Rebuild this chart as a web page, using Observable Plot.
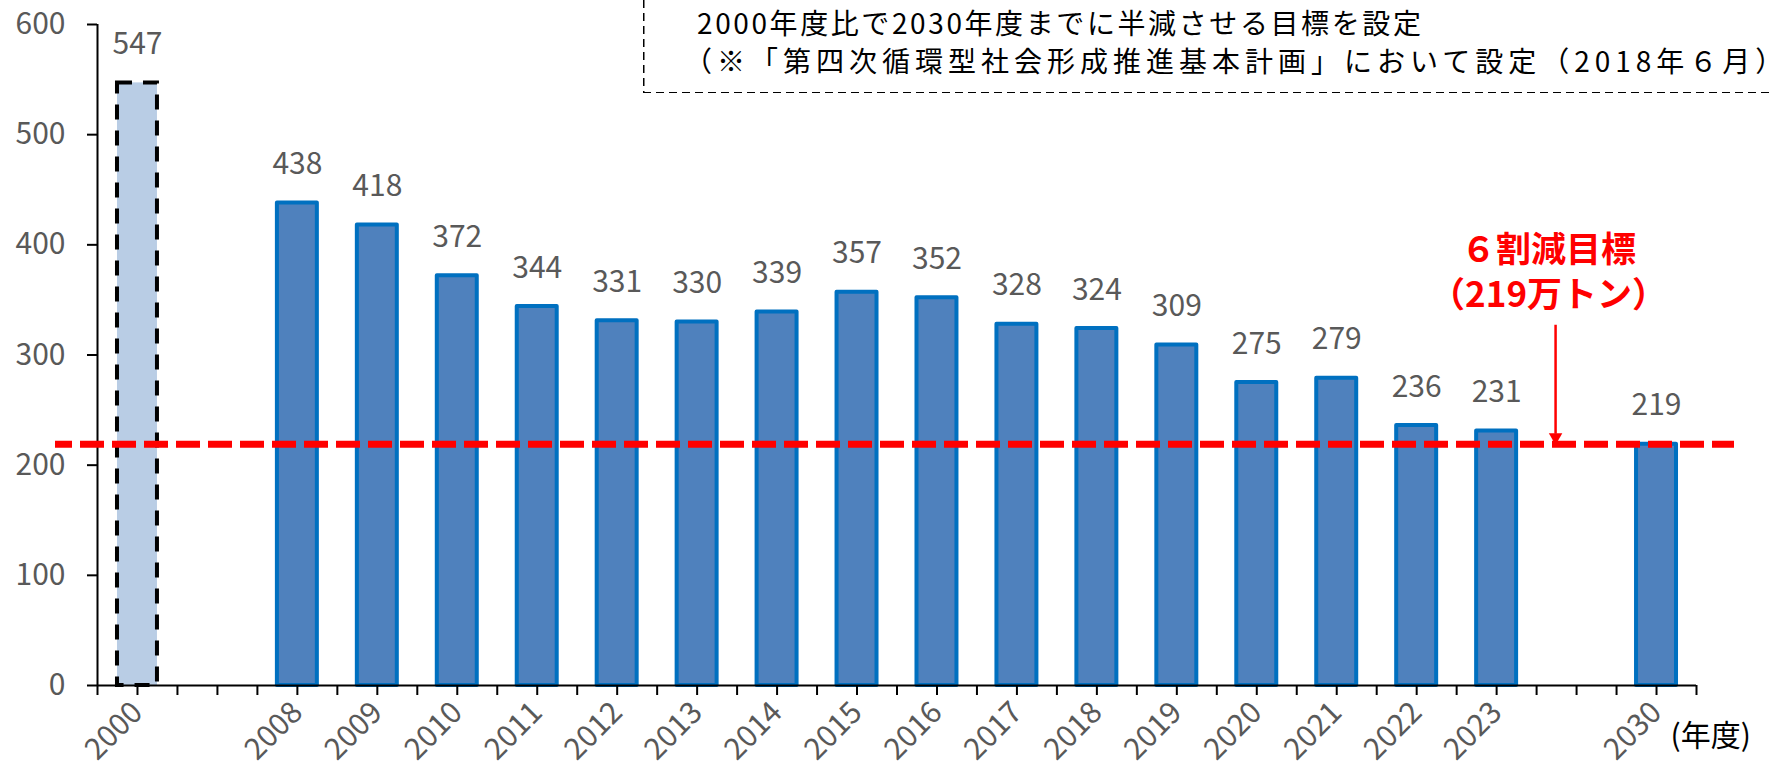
<!DOCTYPE html>
<html>
<head>
<meta charset="utf-8">
<script src="https://cdn.jsdelivr.net/npm/d3@7"></script>
<script src="https://cdn.jsdelivr.net/npm/@observablehq/plot@0.6"></script>
<style>
  html, body { margin: 0; padding: 0; background: #fff; }
  #wrap { position: relative; width: 1769px; height: 763px; overflow: hidden; background: #fff; }
  #wrap svg { position: absolute; left: 0; top: 0; }
  .note-box {
    position: absolute; left: 643px; top: 0; width: 1300px; height: 93px;
    background:
      repeating-linear-gradient(to right, #000 0 8px, transparent 8px 13px) left bottom / 100% 1.5px no-repeat,
      repeating-linear-gradient(to bottom, #000 0 8px, transparent 8px 13px) left top / 1.5px 100% no-repeat;
  }
  .note-line {
    position: absolute; white-space: pre; color: #000;
    font-family: "Noto Sans CJK JP", sans-serif; font-size: 28px; line-height: 1;
  }
</style>
</head>
<body>
<div id="wrap"></div>
<script>
// ---- data ----
const categories = ["2000", "", "2008", "2009", "2010", "2011", "2012", "2013", "2014", "2015",
  "2016", "2017", "2018", "2019", "2020", "2021", "2022", "2023", "", "2030"];
const values = [547, null, 438, 418, 372, 344, 331, 330, 339, 357,
  352, 328, 324, 309, 275, 279, 236, 231, null, 219];
const baseYear = "2000";
const targetValue = 219;
const arrowTopValue = 327;
const yTicks = [0, 100, 200, 300, 400, 500, 600];
const targetLine1 = "６割減目標";
const targetLine2 = "（219万トン）";
const unitLabel = "(年度)";
const noteLine1 = "2000年度比で2030年度までに半減させる目標を設定";
const noteLine2 = "（※「第四次循環型社会形成推進基本計画」において設定（2018年６月）";

// ---- table built from arrays ----
const rows = categories.map((c, i) => ({slot: i, category: c, value: values[i]}))
  .filter(d => d.value != null);
const baseRows = rows.filter(d => d.category === baseYear);
const otherRows = rows.filter(d => d.category !== baseYear);
const i2023 = categories.indexOf("2023"), i2030 = categories.indexOf("2030");
const annotX = ((i2023 + 0.5) + (i2030 + 0.5)) / 2;

const red = "#FF0000";
const gray = "#595959";

const chart = Plot.plot({
  width: 1769,
  height: 763,
  marginTop: 24,
  marginBottom: 78,
  marginLeft: 97,
  marginRight: 73,
  style: {fontFamily: "'Noto Sans CJK JP', sans-serif", fontSize: "30px", background: "transparent", overflow: "visible"},
  x: {type: "linear", domain: [0, categories.length]},
  y: {domain: [0, 600]},
  marks: [
    // bars
    Plot.rect(baseRows, {
      x1: d => d.slot + 0.25, x2: d => d.slot + 0.75, y1: 0, y2: "value",
      fill: "#B9CDE5", stroke: "#000", strokeWidth: 4, strokeDasharray: "15,11"
    }),
    Plot.rect(otherRows, {
      x1: d => d.slot + 0.25, x2: d => d.slot + 0.75, y1: 0, y2: "value",
      fill: "#4F81BD", stroke: "#0070C0", strokeWidth: 4, strokeLinejoin: "round"
    }),
    // axes
    Plot.axisY({
      ticks: yTicks, tickSize: 10, tickPadding: 22, stroke: "#000", strokeWidth: 2,
      fill: gray, fontSize: 30, label: null
    }),
    Plot.axisX({
      ticks: d3.range(0, categories.length + 0.5, 0.5), tickSize: 10, tickPadding: 12,
      tickRotate: -45, stroke: "#000", strokeWidth: 2, fill: gray, fontSize: 30, label: null,
      tickFormat: t => (t % 1 === 0.5 ? categories[t - 0.5] : "")
    }),
    Plot.ruleX([0], {stroke: "#000", strokeWidth: 2}),
    Plot.ruleY([0], {stroke: "#000", strokeWidth: 2}),
    // value labels
    Plot.text(rows, {
      x: d => d.slot + 0.5, y: "value", text: d => String(d.value),
      lineAnchor: "bottom", dy: -29, fill: gray, fontSize: 30
    }),
    // target line
    Plot.ruleY([targetValue], {
      stroke: red, strokeWidth: 7, strokeDasharray: "24,8", strokeDashoffset: 7,
      insetLeft: -42, insetRight: -38
    }),
    // arrow
    Plot.ruleX([annotX], {x: d => d, y1: arrowTopValue, y2: targetValue, dx: -21, insetBottom: 10, stroke: red, strokeWidth: 2.5}),
    Plot.dot([annotX], {x: d => d, y: targetValue, dx: -21, dy: -7, symbol: "triangle", rotate: 180, r: 5, fill: red, stroke: "none"}),
    // target annotation text (two lines)
    Plot.text([targetLine1 + "\n" + targetLine2], {
      x: annotX, y: arrowTopValue, text: d => d, dx: -28, dy: -18, lineAnchor: "bottom",
      lineHeight: 45 / 35, fill: red, fontWeight: "bold", fontSize: 35, ariaLabel: "target-label"
    }),
    // unit label
    Plot.text([unitLabel], {
      frameAnchor: "bottom-right", text: d => d, textAnchor: "start", lineAnchor: "bottom",
      dx: -26, dy: 60, fill: "#000", fontSize: 30
    })
  ]
});

d3.select(chart).selectAll('g[aria-label="target-label"] text tspan')
  .filter((d, i) => i === 1)
  .style("letter-spacing", "-4px");

const wrap = document.getElementById("wrap");
wrap.appendChild(chart);

const box = document.createElement("div");
box.className = "note-box";
wrap.appendChild(box);

const l1 = document.createElement("div");
l1.className = "note-line";
l1.style.left = "697px"; l1.style.top = "8px"; l1.style.letterSpacing = "2.6px";
l1.textContent = noteLine1;
wrap.appendChild(l1);

const l2 = document.createElement("div");
l2.className = "note-line";
l2.style.left = "684px"; l2.style.top = "46px"; l2.style.letterSpacing = "5px";
l2.textContent = noteLine2;
wrap.appendChild(l2);
</script>
</body>
</html>
